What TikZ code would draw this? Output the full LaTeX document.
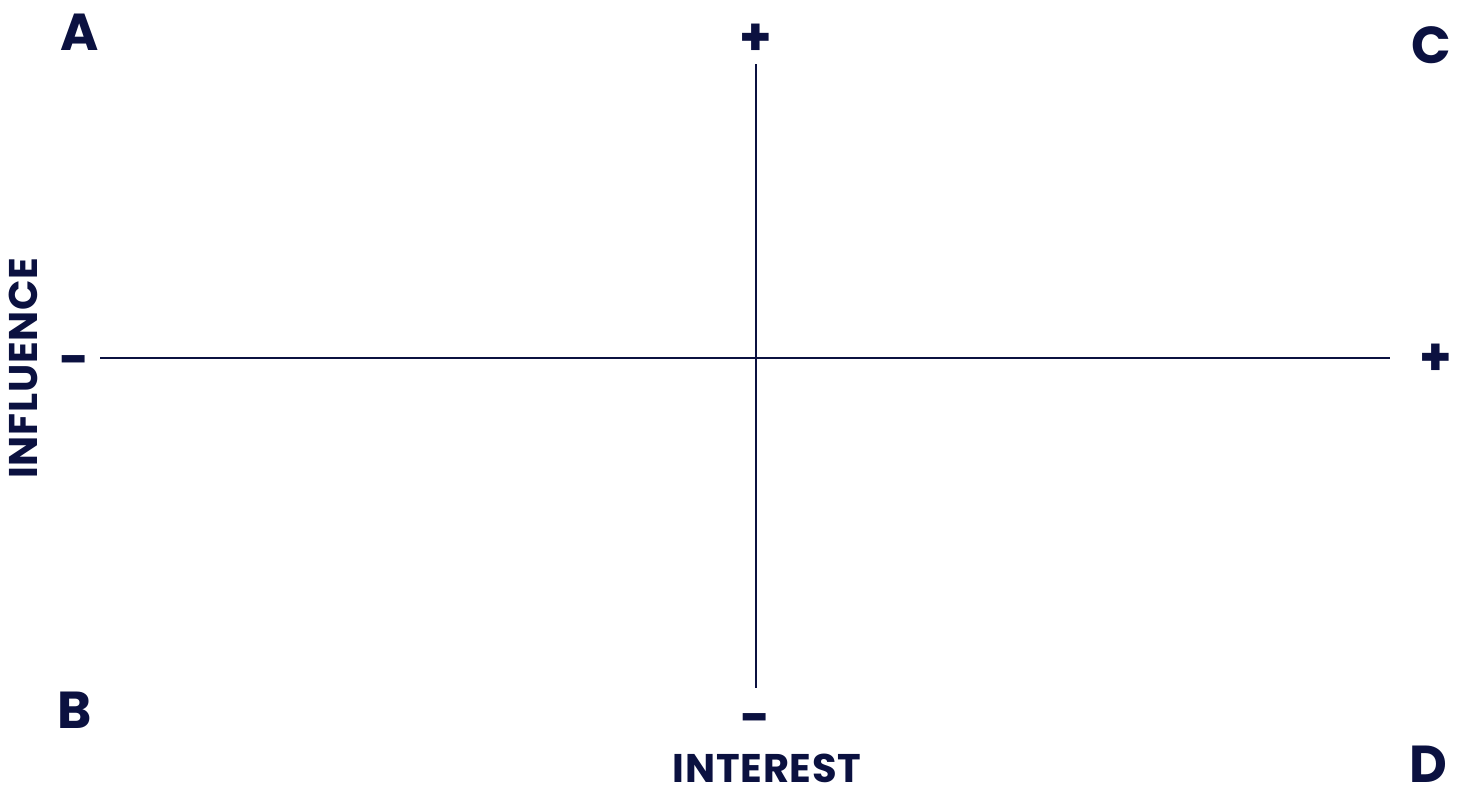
\documentclass[tikz,border=0pt]{standalone}
\usepackage{fontspec}
\setmainfont{Poppins}[BoldFont={* Bold}]
\definecolor{navy}{HTML}{0B1140}
\begin{document}
\begin{tikzpicture}[x=1pt,y=-1pt,
  corner/.style={font=\fontsize{52}{60}\selectfont\bfseries, text=navy, inner sep=0pt, anchor=base},
  axislabel/.style={font=\fontsize{40}{46}\selectfont\bfseries\addfontfeatures{LetterSpace=2}, text=navy, inner sep=0pt, anchor=base},
  sign/.style={font=\fontsize{52}{60}\selectfont\bfseries, text=navy, inner sep=0pt, anchor=base},
  axis/.style={draw=navy, line width=2pt}]
\useasboundingbox (0,0) rectangle (1459,785);
\node[corner] (A) at (80,50) {A};
\node[corner] (B) at (75,728) {B};
\node[corner] (C) at (1431,63) {C};
\node[corner] (D) at (1428,782) {D};
\node[axislabel] (interest) at (767,782) {INTEREST};
\node[axislabel, rotate=90] (influence) at (37,368) {INFLUENCE};
\node[sign] (ptop) at (756,55) {+};
\node[sign] (mbot) at (756,735) {-};
\node[sign] (mleft) at (75,377) {-};
\node[sign] (pright) at (1436,375) {+};
\coordinate (top) at (756,64);
\coordinate (bot) at (756,688);
\coordinate (left) at (100,358);
\coordinate (right) at (1390,358);
\draw[axis] (top) -- (bot);
\draw[axis] (left) -- (right);
\end{tikzpicture}
\end{document}
